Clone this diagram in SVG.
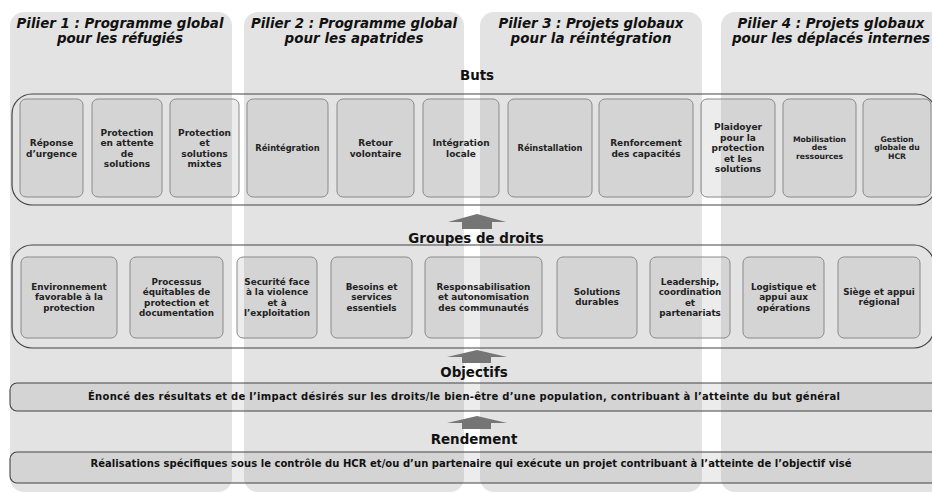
<svg xmlns="http://www.w3.org/2000/svg" width="932" height="493" viewBox="0 0 932 493">
<style>
.col{fill:#e3e3e3}
.title{font-family:"DejaVu Sans",Verdana,sans-serif;font-weight:bold;font-style:italic;font-size:13.4px;fill:#111;text-anchor:middle}
.head{font-family:"DejaVu Sans",Verdana,sans-serif;font-weight:bold;font-size:13.4px;fill:#111;text-anchor:middle}
.outer{fill:none;stroke:#444;stroke-width:1.2}
.box{fill:#7a7a7a;fill-opacity:0.14;stroke:#8a8a8a;stroke-width:1}
.bar{fill:#7a7a7a;fill-opacity:0.14;stroke:#444;stroke-width:1.1}
.t{font-family:"DejaVu Sans",Verdana,sans-serif;font-weight:bold;font-size:9px;fill:#222;text-anchor:middle}
.t1{font-family:"DejaVu Sans",Verdana,sans-serif;font-weight:bold;font-size:8.3px;fill:#222;text-anchor:middle}
.ts{font-family:"DejaVu Sans",Verdana,sans-serif;font-weight:bold;font-size:7.7px;fill:#222;text-anchor:middle}
.tg{font-family:"DejaVu Sans",Verdana,sans-serif;font-weight:bold;font-size:8.8px;fill:#222;text-anchor:middle}
.tb{font-family:"DejaVu Sans",Verdana,sans-serif;font-weight:bold;font-size:10px;fill:#111;text-anchor:middle}
.arrow{fill:#757575}
</style>
<rect width="932" height="493" fill="#fff"/>
<g id="pillars">
<g id="pilier1"><rect class="col" x="10" y="12" width="222" height="480" rx="14"/>
<text class="title" x="120" y="27.5" textLength="207">Pilier 1 : Programme global</text><text class="title" x="120" y="43" textLength="126">pour les réfugiés</text></g>
<g id="pilier2"><rect class="col" x="244" y="12" width="220" height="480" rx="14"/>
<text class="title" x="354" y="27.5" textLength="206">Pilier 2 : Programme global</text><text class="title" x="354" y="43" textLength="139">pour les apatrides</text></g>
<g id="pilier3"><rect class="col" x="480" y="12" width="222" height="480" rx="14"/>
<text class="title" x="591" y="27.5" textLength="185">Pilier 3 : Projets globaux</text><text class="title" x="591" y="43" textLength="161">pour la réintégration</text></g>
<g id="pilier4"><rect class="col" x="721" y="12" width="222" height="480" rx="14"/>
<text class="title" x="831" y="27.5" textLength="187">Pilier 4 : Projets globaux</text><text class="title" x="831" y="43" textLength="198">pour les déplacés internes</text></g>
</g>
<g id="buts">
<text class="head" x="477" y="80">Buts</text>
<rect class="outer" x="12" y="94" width="924" height="111" rx="20"/>
<g id="b1"><rect class="box" x="20" y="99" width="63" height="98" rx="6"/><text class="t" x="51.5" y="146.2">Réponse<tspan x="51.5" dy="10.3">d’urgence</tspan></text></g>
<g id="b2"><rect class="box" x="92" y="99" width="70" height="98" rx="6"/><text class="t" x="127" y="135.9">Protection<tspan x="127" dy="10.3">en attente</tspan><tspan x="127" dy="10.3">de</tspan><tspan x="127" dy="10.3">solutions</tspan></text></g>
<g id="b3"><rect class="box" x="170" y="99" width="69" height="98" rx="6"/><text class="t" x="204.5" y="135.9">Protection<tspan x="204.5" dy="10.3">et</tspan><tspan x="204.5" dy="10.3">solutions</tspan><tspan x="204.5" dy="10.3">mixtes</tspan></text></g>
<g id="b4"><rect class="box" x="247" y="99" width="81" height="98" rx="6"/><text class="t1" x="287.5" y="151">Réintégration</text></g>
<g id="b5"><rect class="box" x="337" y="99" width="77" height="98" rx="6"/><text class="t" x="375.5" y="146.2">Retour<tspan x="375.5" dy="10.3">volontaire</tspan></text></g>
<g id="b6"><rect class="box" x="423" y="99" width="76" height="98" rx="6"/><text class="t" x="461" y="146.2">Intégration<tspan x="461" dy="10.3">locale</tspan></text></g>
<g id="b7"><rect class="box" x="508" y="99" width="84" height="98" rx="6"/><text class="t1" x="550" y="151">Réinstallation</text></g>
<g id="b8"><rect class="box" x="599" y="99" width="94" height="98" rx="6"/><text class="t" x="646" y="146.2">Renforcement<tspan x="646" dy="10.3">des capacités</tspan></text></g>
<g id="b9"><rect class="box" x="701" y="99" width="74" height="98" rx="6"/><text class="t" x="738" y="130.3">Plaidoyer<tspan x="738" dy="10.5">pour la</tspan><tspan x="738" dy="10.5">protection</tspan><tspan x="738" dy="10.5">et les</tspan><tspan x="738" dy="10.5">solutions</tspan></text></g>
<g id="b10"><rect class="box" x="783" y="99" width="73" height="98" rx="6"/><text class="ts" x="819.5" y="142">Mobilisation<tspan x="819.5" dy="8.3">des</tspan><tspan x="819.5" dy="8.3">ressources</tspan></text></g>
<g id="b11"><rect class="box" x="863" y="99" width="68" height="98" rx="6"/><text class="ts" x="897" y="142">Gestion<tspan x="897" dy="8.3">globale du</tspan><tspan x="897" dy="8.3">HCR</tspan></text></g>
</g>
<g id="groupes">
<text class="head" x="476" y="243">Groupes de droits</text>
<rect class="outer" x="12" y="245" width="922" height="103" rx="20"/>
<g id="g1"><rect class="box" x="21" y="257" width="96" height="81" rx="6"/><text class="tg" x="69" y="289.7">Environnement<tspan x="69" dy="10.5">favorable à la</tspan><tspan x="69" dy="10.5">protection</tspan></text></g>
<g id="g2"><rect class="box" x="130" y="257" width="93" height="81" rx="6"/><text class="tg" x="176.5" y="285.2">Processus<tspan x="176.5" dy="10.2">équitables de</tspan><tspan x="176.5" dy="10.2">protection et</tspan><tspan x="176.5" dy="10.2">documentation</tspan></text></g>
<g id="g3"><rect class="box" x="237" y="257" width="80" height="81" rx="6"/><text class="tg" x="277" y="285.2">Securité face<tspan x="277" dy="10.2">à la violence</tspan><tspan x="277" dy="10.2">et à</tspan><tspan x="277" dy="10.2">l’exploitation</tspan></text></g>
<g id="g4"><rect class="box" x="331" y="257" width="81" height="81" rx="6"/><text class="tg" x="371.5" y="289.7">Besoins et<tspan x="371.5" dy="10.5">services</tspan><tspan x="371.5" dy="10.5">essentiels</tspan></text></g>
<g id="g5"><rect class="box" x="425" y="257" width="117" height="81" rx="6"/><text class="tg" x="483.5" y="289.7">Responsabilisation<tspan x="483.5" dy="10.5">et autonomisation</tspan><tspan x="483.5" dy="10.5">des communautés</tspan></text></g>
<g id="g6"><rect class="box" x="557" y="257" width="80" height="81" rx="6"/><text class="tg" x="597" y="295.2">Solutions<tspan x="597" dy="10">durables</tspan></text></g>
<g id="g7"><rect class="box" x="650" y="257" width="80" height="81" rx="6"/><text class="tg" x="690" y="285.2">Leadership,<tspan x="690" dy="10.2">coordination</tspan><tspan x="690" dy="10.2">et</tspan><tspan x="690" dy="10.2">partenariats</tspan></text></g>
<g id="g8"><rect class="box" x="743" y="257" width="81" height="81" rx="6"/><text class="tg" x="783.5" y="289.7">Logistique et<tspan x="783.5" dy="10.5">appui aux</tspan><tspan x="783.5" dy="10.5">opérations</tspan></text></g>
<g id="g9"><rect class="box" x="838" y="257" width="82" height="81" rx="6"/><text class="tg" x="879" y="295">Siège et appui<tspan x="879" dy="9.5">régional</tspan></text></g>
</g>
<g id="objectifs">
<text class="head" x="474" y="377">Objectifs</text>
<rect class="bar" x="10" y="383" width="930" height="28" rx="7"/>
<text class="tb" x="464" y="399.5" textLength="752">Énoncé des résultats et de l’impact désirés sur les droits/le bien-être d’une population, contribuant à l’atteinte du but général</text>
</g>
<g id="rendement">
<text class="head" x="474" y="444">Rendement</text>
<rect class="bar" x="10" y="452" width="930" height="31" rx="7"/>
<text class="tb" x="471" y="466.5" textLength="761">Réalisations spécifiques sous le contrôle du HCR et/ou d’un partenaire qui exécute un projet contribuant à l’atteinte de l’objectif visé</text>
</g>
<g id="connectors">
<polygon class="arrow" points="477,214 506,222 492,222 492,229 462,229 462,222 448,222"/>
<polygon class="arrow" points="477,350 507,357 491,357 491,363 462,363 462,357 447,357"/>
<polygon class="arrow" points="477,416 507,423 491,423 491,429 462,429 462,423 447,423"/>
</g>
</svg>
